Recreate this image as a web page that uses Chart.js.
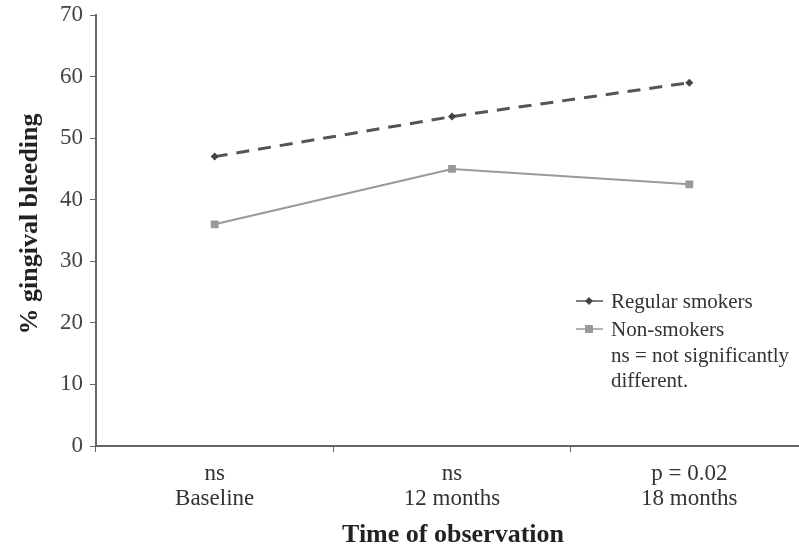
<!DOCTYPE html>
<html>
<head>
<meta charset="utf-8">
<script src="https://cdn.jsdelivr.net/npm/chart.js@4"></script>
<style>
  html, body { margin: 0; padding: 0; background: #fff; }
  #wrap { width: 799px; height: 550px; }
</style>
</head>
<body>
<div id="wrap"><canvas id="myChart"></canvas></div>
<script>
// data
var categories = [['ns', 'Baseline'], ['ns', '12 months'], ['p = 0.02', '18 months']];
var regularSmokers = [47, 53.5, 59];
var nonSmokers = [36, 45, 42.5];
var yTicks = [0, 10, 20, 30, 40, 50, 60, 70];
var legendLines = ['Regular smokers', 'Non-smokers', 'ns = not significantly', 'different.'];

var serif = '"Liberation Serif", "DejaVu Serif", serif';

// the original x axis runs a little past the right edge of the picture
var stretchX = {
  id: 'stretchX',
  afterLayout: function(chart) {
    var x = chart.scales.x;
    x.right = 808;
    x.width = x.right - x.left;
    x.configure();
  }
};

// axis titles + legend drawn on the canvas
var extras = {
  id: 'extras',
  afterDraw: function(chart) {
    var ctx = chart.ctx;
    ctx.save();
    ctx.fillStyle = '#222';
    ctx.font = 'bold 26px ' + serif;
    ctx.textAlign = 'center';
    ctx.textBaseline = 'middle';
    ctx.fillText('Time of observation', 453, 535);
    ctx.translate(30, 224);
    ctx.rotate(-Math.PI / 2);
    ctx.fillText('% gingival bleeding', 0, 0);
    ctx.restore();

    // legend
    ctx.save();
    ctx.font = '21px ' + serif;
    ctx.fillStyle = '#333';
    ctx.textBaseline = 'middle';
    ctx.textAlign = 'left';
    var ys = [302, 330, 356, 381];
    legendLines.forEach(function(t, i) { ctx.fillText(t, 611, ys[i]); });
    // regular smokers key
    ctx.strokeStyle = '#555'; ctx.lineWidth = 1.5;
    ctx.beginPath(); ctx.moveTo(576, 301); ctx.lineTo(603, 301); ctx.stroke();
    ctx.fillStyle = '#444';
    ctx.beginPath(); ctx.moveTo(589, 297); ctx.lineTo(593, 301); ctx.lineTo(589, 305); ctx.lineTo(585, 301); ctx.closePath(); ctx.fill();
    // non-smokers key
    ctx.strokeStyle = '#999';
    ctx.beginPath(); ctx.moveTo(576, 329); ctx.lineTo(603, 329); ctx.stroke();
    ctx.fillStyle = '#999';
    ctx.fillRect(585, 325, 8, 8);
    ctx.restore();
  }
};

new Chart('myChart', {
  type: 'line',
  data: {
    labels: categories,
    datasets: [{
      label: 'Regular smokers',
      data: regularSmokers,
      borderColor: '#555',
      backgroundColor: '#444',
      borderWidth: 3,
      borderDash: [13, 9],
      pointStyle: 'rectRot',
      pointRadius: 4,
      pointBorderWidth: 0
    }, {
      label: 'Non-smokers',
      data: nonSmokers,
      borderColor: '#999',
      backgroundColor: '#999',
      borderWidth: 2,
      pointStyle: 'rect',
      pointRadius: 5.5,
      pointBorderWidth: 0
    }]
  },
  plugins: [stretchX, extras],
  options: {
    responsive: true,
    maintainAspectRatio: false,
    animation: false,
    layout: { padding: { top: 15, right: 0, left: 0, bottom: 0 } },
    plugins: {
      legend: { display: false },
      tooltip: { enabled: false }
    },
    scales: {
      x: {
        offset: true,
        afterFit: function(s) { s.height = 104; },
        grid: { display: true, offset: true, drawOnChartArea: false, tickLength: 6, color: '#666' },
        border: { color: '#666', width: 2 },
        ticks: { color: '#333', font: { family: serif, size: 23, lineHeight: 1.1 }, padding: 9 }
      },
      y: {
        min: 0,
        max: 70,
        afterFit: function(s) { s.width = 96; s.paddingTop = 0; s.paddingBottom = 0; },
        afterBuildTicks: function(s) { s.ticks = yTicks.map(function(v) { return { value: v }; }); },
        grid: { display: true, drawOnChartArea: false, tickLength: 6, color: '#666' },
        border: { color: '#666', width: 2 },
        ticks: { color: '#444', font: { family: serif, size: 23 }, padding: 7 }
      }
    }
  }
});
</script>
</body>
</html>
